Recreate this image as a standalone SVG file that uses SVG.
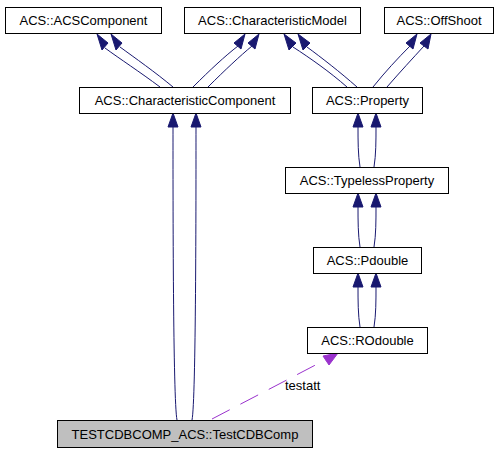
<svg xmlns="http://www.w3.org/2000/svg" width="501" height="453" viewBox="0 0 501 453">
<style>
.n rect{fill:#fff;stroke:#000;stroke-width:1}
.n text{font-family:"Liberation Sans",Arial,sans-serif;font-size:13px;text-anchor:middle;fill:#000}
.e{fill:none;stroke:#191970;stroke-width:1}
.h{fill:#191970;stroke:#191970}
.d{fill:none;stroke:#9a32cd;stroke-width:1;stroke-dasharray:20,12}
.dh{fill:#9a32cd;stroke:#9a32cd}
.lbl{font-family:"Liberation Sans",Arial,sans-serif;font-size:13px;fill:#000}
</style>
<rect width="501" height="453" fill="#fff"/>
<g id="connectors">
<path class="e" d="M160,87 C140,72 120,59 105,48"/>
<polygon class="h" points="97,34 108,43 102,50"/>
<path class="e" d="M173,87 C155,72 135,58 120,47"/>
<polygon class="h" points="111,34 122,43 116,50"/>
<path class="e" d="M193,87 C210,70 225,56 238,46"/>
<polygon class="h" points="245,34 241,49 234,43"/>
<path class="e" d="M208,87 C225,70 240,56 252,46"/>
<polygon class="h" points="259,34 255,49 248,43"/>
<path class="e" d="M347,87 C330,72 310,58 293,47"/>
<polygon class="h" points="284,34 296,43 289,50"/>
<path class="e" d="M357,87 C340,72 322,58 307,47"/>
<polygon class="h" points="298,34 310,43 303,50"/>
<path class="e" d="M373,87 C385,72 398,58 410,46"/>
<polygon class="h" points="417,34 413,49 406,43"/>
<path class="e" d="M387,87 C400,72 413,58 424,46"/>
<polygon class="h" points="431,34 428,49 420,43"/>
<path class="e" d="M360,167 C358,155 358,140 358,127"/>
<polygon class="h" points="358,113 363,127 353,127"/>
<path class="e" d="M374,167 C376,155 376,140 376,127"/>
<polygon class="h" points="376,113 381,127 371,127"/>
<path class="e" d="M360,247 C358,235 358,220 358,207"/>
<polygon class="h" points="358,193 363,207 353,207"/>
<path class="e" d="M374,247 C376,235 376,220 376,207"/>
<polygon class="h" points="376,193 381,207 371,207"/>
<path class="e" d="M360,327 C358,315 358,300 358,287"/>
<polygon class="h" points="358,273 363,287 353,287"/>
<path class="e" d="M374,327 C376,315 376,300 376,287"/>
<polygon class="h" points="376,273 381,287 371,287"/>
<path class="e" d="M177,420 C173,400 173,200 173,127"/>
<polygon class="h" points="173,113 178,127 168,127"/>
<path class="e" d="M192,420 C196,400 196,200 196,127"/>
<polygon class="h" points="196,113 201,127 191,127"/>
<path class="d" d="M212,419 L327,359"/>
<polygon class="dh" points="338,353 329,365 323,356"/>
<text class="lbl" x="285" y="390">testatt</text>
</g>
<g id="n1" class="n"><rect x="5.5" y="7.5" width="156" height="26"/><text x="83.5" y="25">ACS::ACSComponent</text></g>
<g id="n2" class="n"><rect x="184.5" y="7.5" width="176" height="26"/><text x="272.5" y="25">ACS::CharacteristicModel</text></g>
<g id="n3" class="n"><rect x="384.5" y="7.5" width="109" height="26"/><text x="439" y="25">ACS::OffShoot</text></g>
<g id="n4" class="n"><rect x="79.5" y="87.5" width="211" height="26"/><text x="185" y="105">ACS::CharacteristicComponent</text></g>
<g id="n5" class="n"><rect x="312.5" y="87.5" width="110" height="26"/><text x="367.5" y="105">ACS::Property</text></g>
<g id="n6" class="n"><rect x="285.5" y="167.5" width="163" height="26"/><text x="367" y="185">ACS::TypelessProperty</text></g>
<g id="n7" class="n"><rect x="313.5" y="247.5" width="108" height="26"/><text x="367.5" y="265">ACS::Pdouble</text></g>
<g id="n8" class="n"><rect x="307.5" y="327.5" width="120" height="26"/><text x="367.5" y="345">ACS::ROdouble</text></g>
<g id="n9" class="n"><rect x="57.5" y="420.5" width="255" height="27" style="fill:#bfbfbf"/><text x="185" y="439">TESTCDBCOMP_ACS::TestCDBComp</text></g>
</svg>
